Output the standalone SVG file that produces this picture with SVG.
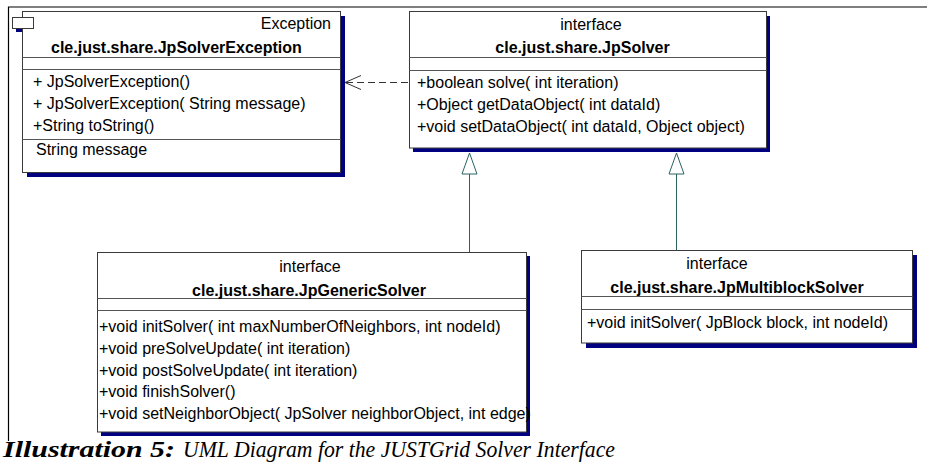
<svg xmlns="http://www.w3.org/2000/svg" width="927" height="463" viewBox="0 0 927 463">
  <style>
    .frame { fill: none; stroke: #000; stroke-width: 1.2; }
    .box { fill: #fff; stroke: #3a3a3a; stroke-width: 1; }
    .shadow { fill: #000080; }
    .sep { stroke: #555; stroke-width: 1; }
    .t { font-family: "Liberation Sans", Arial, sans-serif; font-size: 16px; fill: #000; }
    .b { font-weight: bold; }
    .mid { text-anchor: middle; }
    .end { text-anchor: end; }
    .dep { fill: none; stroke: #333; stroke-width: 1; }
    .gen { fill: none; stroke: #2a6262; stroke-width: 1; }
    .tri { fill: #fff; stroke: #2a6262; stroke-width: 1; }
    .cap { font-family: "Liberation Serif", "Times New Roman", serif; font-size: 23px; font-style: italic; fill: #000; }
  </style>

  <!-- outer frame -->
  <path class="frame" d="M8.5 441 V7 H927"/>

  <!-- exception class -->
  <g id="JpSolverException">
    <rect class="shadow" x="16" y="21" width="21" height="11"/>
    <rect class="shadow" x="27" y="16" width="318" height="161"/>
    <rect class="box" x="22.5" y="11.5" width="318" height="161"/>
    <rect class="box" x="12.5" y="17.5" width="21" height="11"/>
    <line class="sep" x1="22.5" y1="57.5" x2="340.5" y2="57.5"/>
    <line class="sep" x1="22.5" y1="69.5" x2="340.5" y2="69.5"/>
    <line class="sep" x1="22.5" y1="139.5" x2="340.5" y2="139.5"/>
    <text class="t end" x="331" y="28.5">Exception</text>
    <text class="t b" x="51" y="53">cle.just.share.JpSolverException</text>
    <text class="t" x="33" y="86.5">+ JpSolverException()</text>
    <text class="t" x="33" y="108.5">+ JpSolverException( String message)</text>
    <text class="t" x="33" y="130.5">+String toString()</text>
    <text class="t" x="36" y="154.5">String message</text>
  </g>

  <!-- base solver interface -->
  <g id="JpSolver">
    <rect class="shadow" x="413" y="16" width="357" height="136"/>
    <rect class="box" x="409.5" y="11.5" width="357" height="136.5"/>
    <line class="sep" x1="409.5" y1="57.5" x2="766.5" y2="57.5"/>
    <line class="sep" x1="409.5" y1="70.5" x2="766.5" y2="70.5"/>
    <text class="t mid" x="591" y="29.5">interface</text>
    <text class="t b mid" x="582.5" y="53">cle.just.share.JpSolver</text>
    <text class="t" x="417" y="88">+boolean solve( int iteration)</text>
    <text class="t" x="417" y="110">+Object getDataObject( int dataId)</text>
    <text class="t" x="417" y="132">+void setDataObject( int dataId, Object object)</text>
  </g>

  <!-- generic solver interface -->
  <g id="JpGenericSolver">
    <rect class="shadow" x="101" y="256" width="429" height="180"/>
    <rect class="box" x="97.5" y="252.5" width="429" height="179.5"/>
    <line class="sep" x1="97.5" y1="298.5" x2="526.5" y2="298.5"/>
    <line class="sep" x1="97.5" y1="310.5" x2="526.5" y2="310.5"/>
    <text class="t mid" x="310" y="272">interface</text>
    <text class="t b mid" x="309" y="295.5">cle.just.share.JpGenericSolver</text>
    <text class="t" x="99" y="332">+void initSolver( int maxNumberOfNeighbors, int nodeId)</text>
    <text class="t" x="99" y="353.5">+void preSolveUpdate( int iteration)</text>
    <text class="t" x="99" y="375.5">+void postSolveUpdate( int iteration)</text>
    <text class="t" x="99" y="397">+void finishSolver()</text>
    <text class="t" x="99" y="418.5">+void setNeighborObject( JpSolver neighborObject, int edge)</text>
  </g>

  <!-- multiblock solver interface -->
  <g id="JpMultiblockSolver">
    <rect class="shadow" x="586" y="255" width="331" height="93"/>
    <rect class="box" x="581.5" y="250.5" width="331" height="92.5"/>
    <line class="sep" x1="581.5" y1="296.5" x2="912.5" y2="296.5"/>
    <line class="sep" x1="581.5" y1="309.5" x2="912.5" y2="309.5"/>
    <text class="t mid" x="717" y="268.5">interface</text>
    <text class="t b mid" x="737" y="293">cle.just.share.JpMultiblockSolver</text>
    <text class="t" x="587" y="327.5">+void initSolver( JpBlock block, int nodeId)</text>
  </g>

  <!-- relations -->
  <g id="connectors">
    <line class="dep" x1="408" y1="82.5" x2="346" y2="82.5" stroke-dasharray="7 4"/>
    <polyline class="dep" points="361,75.5 345,82.5 361,89.5"/>
    <line class="gen" x1="469.5" y1="174" x2="469.5" y2="252"/>
    <polygon class="tri" points="469.5,153 462,174 477,174"/>
    <line class="gen" x1="676.5" y1="174" x2="676.5" y2="250"/>
    <polygon class="tri" points="676.5,153 669,174 684,174"/>
  </g>

  <!-- caption -->
  <text class="cap" y="457"><tspan x="3" font-weight="bold" textLength="172" lengthAdjust="spacingAndGlyphs">Illustration 5:</tspan><tspan x="183" textLength="432" lengthAdjust="spacingAndGlyphs">UML Diagram for the JUSTGrid Solver Interface</tspan></text>
</svg>
